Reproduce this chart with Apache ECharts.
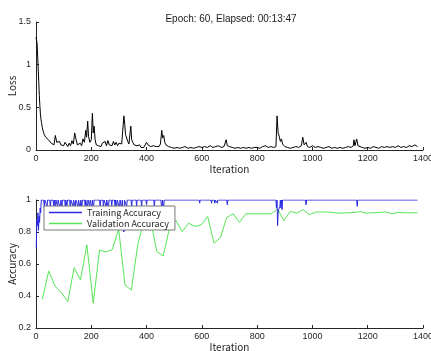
<!DOCTYPE html>
<html>
<head>
<meta charset="utf-8">
<script src="https://cdn.jsdelivr.net/npm/echarts@6/dist/echarts.min.js"></script>
<style>html,body{margin:0;padding:0;background:#fff}#c{width:431px;height:351px}</style>
</head>
<body>
<div id="c"></div>
<script>
const titleText = "Epoch: 60, Elapsed: 00:13:47";

const lossIter = [0,2,4,6,8,10,12,14,16,18,20,23,26,30,35,40,45,50,55,60,65,70,75,80,85,90,95,100,105,110,115,120,125,130,135,140,145,150,155,160,165,170,175,180,183,187,190,195,200,204,207,210,214,218,222,226,230,235,240,245,250,255,260,265,270,275,280,285,290,295,300,305,310,315,318,321,324,328,332,336,340,343,346,350,355,360,365,370,375,380,385,390,395,400,405,410,415,420,425,430,435,440,445,450,455,458,462,466,470,475,480,485,490,500,510,520,530,540,550,560,570,580,590,600,610,620,630,640,650,660,670,680,688,692,700,710,720,730,740,750,760,770,780,790,800,810,820,830,840,850,860,868,872,876,880,884,888,892,896,900,910,920,930,940,950,960,965,970,977,982,990,1000,1010,1020,1030,1040,1050,1060,1070,1080,1090,1100,1110,1120,1130,1140,1148,1150,1154,1160,1165,1170,1180,1190,1200,1210,1220,1230,1240,1250,1260,1270,1280,1290,1300,1310,1320,1330,1340,1350,1360,1370,1380];
const lossVal = [1.32,1.33,1.25,1.10,0.95,0.80,0.64,0.52,0.42,0.36,0.32,0.26,0.22,0.18,0.15,0.13,0.12,0.10,0.08,0.09,0.06,0.17,0.09,0.07,0.10,0.06,0.08,0.05,0.09,0.07,0.04,0.08,0.05,0.11,0.07,0.20,0.12,0.06,0.04,0.08,0.05,0.13,0.09,0.23,0.15,0.34,0.16,0.09,0.12,0.43,0.20,0.28,0.12,0.06,0.08,0.05,0.07,0.04,0.08,0.06,0.10,0.05,0.11,0.06,0.08,0.05,0.10,0.06,0.09,0.05,0.08,0.06,0.07,0.09,0.40,0.30,0.18,0.20,0.10,0.07,0.09,0.28,0.12,0.09,0.06,0.08,0.05,0.04,0.06,0.03,0.04,0.03,0.05,0.09,0.06,0.08,0.04,0.03,0.05,0.03,0.04,0.03,0.04,0.07,0.23,0.14,0.17,0.09,0.06,0.08,0.04,0.05,0.03,0.02,0.03,0.02,0.03,0.04,0.02,0.03,0.02,0.03,0.04,0.03,0.04,0.03,0.05,0.03,0.04,0.05,0.03,0.04,0.12,0.05,0.04,0.03,0.02,0.03,0.02,0.03,0.02,0.03,0.02,0.03,0.03,0.02,0.04,0.05,0.03,0.04,0.03,0.04,0.40,0.20,0.16,0.10,0.13,0.07,0.05,0.04,0.03,0.02,0.03,0.04,0.03,0.05,0.15,0.06,0.09,0.04,0.03,0.05,0.03,0.04,0.03,0.02,0.03,0.04,0.02,0.03,0.02,0.03,0.02,0.03,0.04,0.03,0.05,0.12,0.05,0.13,0.05,0.04,0.03,0.02,0.03,0.02,0.04,0.03,0.02,0.04,0.03,0.04,0.03,0.04,0.03,0.05,0.03,0.04,0.03,0.05,0.04,0.06,0.04];

const trainIter = [1,3,5,7,9,11,13,15,17,19,
 28,30,32, 38,40,42, 50,52,54, 62,64,66, 68,70,72, 76,78,80, 86,88,90, 92,94,96, 104,106,108, 110,112,114, 122,124,126, 132,134,136, 140,142,144, 150,152,154, 158,160,162, 164,166,168, 176,178,180, 184,186,188, 192,194,196, 200,202,204, 206,208,210,
 230,232,234, 242,244,246, 252,254,256, 260,262,264, 272,274,276, 284,286,288, 290,292,294, 300,302,304, 308,310,312, 316,318,320, 326,328,330, 344,346,348, 362,364,366, 380,382,384, 398,400,402, 426,428,430, 452,455,458,461,464,
 590,592,594, 633,635,637, 645,647,649, 654,656,658, 690,692,694,
 868,870,872,874,876,878,880,882,884,886,888,890,892,894, 975,977,979, 1160,1162,1164, 1294,1296,1298, 1380];
const trainAcc = [0.70,0.88,0.84,0.92,0.81,0.90,0.86,0.95,0.92,1,
 1,0.95,1, 1,0.96,1, 1,0.94,1, 1,0.96,1, 1,0.95,1, 1,0.96,1, 1,0.94,1, 1,0.96,1, 1,0.95,1, 1,0.96,1, 1,0.94,1, 1,0.96,1, 1,0.95,1, 1,0.96,1, 1,0.94,1, 1,0.96,1, 1,0.95,1, 1,0.94,1, 1,0.96,1, 1,0.95,1, 1,0.94,1,
 1,0.96,1, 1,0.95,1, 1,0.96,1, 1,0.94,1, 1,0.96,1, 1,0.95,1, 1,0.96,1, 1,0.95,1, 1,0.94,1, 1,0.80,1, 1,0.96,1, 1,0.95,1, 1,0.96,1, 1,0.96,1, 1,0.97,1, 1,0.96,1, 1,0.93,1,0.94,1,
 1,0.98,1, 1,0.98,1, 1,0.98,1, 1,0.98,1, 1,0.97,1,
 1,0.95,1,0.84,0.92,0.94,0.93,0.96,1,0.95,1,0.94,1,1, 1,0.97,1, 1,0.96,1, 1,0.99,1, 1];

const valIter = [23,46,69,92,115,138,161,184,207,230,253,276,299,322,345,368,391,414,437,460,483,506,529,552,575,598,621,644,667,690,713,736,759,782,805,828,851,874,897,920,943,966,989,1012,1035,1058,1081,1104,1127,1150,1173,1196,1219,1242,1265,1288,1311,1334,1357,1380];
const valAcc = [0.38,0.556,0.462,0.42,0.365,0.577,0.50,0.72,0.355,0.688,0.675,0.69,0.82,0.468,0.437,0.72,0.88,0.88,0.678,0.65,0.824,0.872,0.803,0.855,0.835,0.845,0.897,0.73,0.765,0.891,0.914,0.86,0.914,0.914,0.914,0.914,0.914,0.943,0.872,0.929,0.918,0.94,0.908,0.925,0.925,0.925,0.92,0.918,0.92,0.922,0.927,0.918,0.92,0.922,0.925,0.914,0.923,0.92,0.92,0.92];

const pair = (xs, ys) => xs.map((x, i) => [x, ys[i]]);
const numFont = '"Liberation Sans", Arial, sans-serif';
const nameFont = '"Noto Sans CJK JP", sans-serif';
const plain = v => String(v);

function xAxisCfg(gi) {
  return {
    type: 'value', gridIndex: gi, min: 0, max: 1400, interval: 200,
    name: 'Iteration', nameLocation: 'middle', nameGap: 14, nameMoveOverlap: false,
    nameTextStyle: { fontFamily: nameFont, fontSize: 10, color: '#262626' },
    axisLine: { show: true, lineStyle: { color: '#262626', width: 1 } },
    axisTick: { show: true, inside: true, length: 3, lineStyle: { color: '#262626' } },
    axisLabel: { fontFamily: numFont, fontSize: 9, color: '#262626', margin: 4, formatter: plain },
    splitLine: { show: false }
  };
}
function yAxisCfg(gi, name, min, max, interval) {
  return {
    type: 'value', gridIndex: gi, min: min, max: max, interval: interval,
    name: name, nameLocation: 'middle', nameGap: 19, nameRotate: 90, nameMoveOverlap: false,
    nameTextStyle: { fontFamily: nameFont, fontSize: 10, color: '#262626' },
    axisLine: { show: true, lineStyle: { color: '#262626', width: 1 } },
    axisTick: { show: true, inside: true, length: 3, lineStyle: { color: '#262626' } },
    axisLabel: { fontFamily: numFont, fontSize: 9, color: '#262626', margin: 5, formatter: plain },
    splitLine: { show: false }
  };
}

const chart = echarts.init(document.getElementById('c'), null, { renderer: 'canvas' });
chart.setOption({
  animation: false,
  backgroundColor: '#fff',
  title: {
    text: titleText, left: 226, top: 9, textAlign: 'center',
    textStyle: { fontFamily: numFont, fontSize: 10, fontWeight: 'normal', color: '#1a1a1a' }
  },
  grid: [
    { left: 36, right: 8, top: 22, height: 128, containLabel: false, outerBoundsMode: 'none' },
    { left: 36, right: 8, top: 200, height: 128, containLabel: false, outerBoundsMode: 'none' }
  ],
  xAxis: [xAxisCfg(0), xAxisCfg(1)],
  yAxis: [yAxisCfg(0, 'Loss', 0, 1.5, 0.5), yAxisCfg(1, 'Accuracy', 0.2, 1, 0.2)],
  legend: {
    data: ['Training Accuracy', 'Validation Accuracy'],
    orient: 'vertical', left: 44, top: 206,
    itemWidth: 33, itemHeight: 1.5, itemGap: 2, icon: 'rect',
    padding: [2, 6, 2, 5],
    backgroundColor: '#fff', borderColor: '#777', borderWidth: 1, borderRadius: 0,
    textStyle: { fontFamily: nameFont, fontSize: 9, color: '#262626' }
  },
  series: [
    {
      name: 'Loss', type: 'line', xAxisIndex: 0, yAxisIndex: 0,
      data: pair(lossIter, lossVal), showSymbol: false, symbol: 'none',
      lineStyle: { color: '#000', width: 1 }, itemStyle: { color: '#000' }
    },
    {
      name: 'Validation Accuracy', type: 'line', xAxisIndex: 1, yAxisIndex: 1,
      data: pair(valIter, valAcc), showSymbol: false, symbol: 'none',
      lineStyle: { color: '#55e655', width: 1 }, itemStyle: { color: '#55e655' }
    },
    {
      name: 'Training Accuracy', type: 'line', xAxisIndex: 1, yAxisIndex: 1,
      data: pair(trainIter, trainAcc), showSymbol: false, symbol: 'none',
      lineStyle: { color: '#2a2ae0', width: 1 }, itemStyle: { color: '#2a2ae0' }
    }
  ]
});
</script>
</body>
</html>
